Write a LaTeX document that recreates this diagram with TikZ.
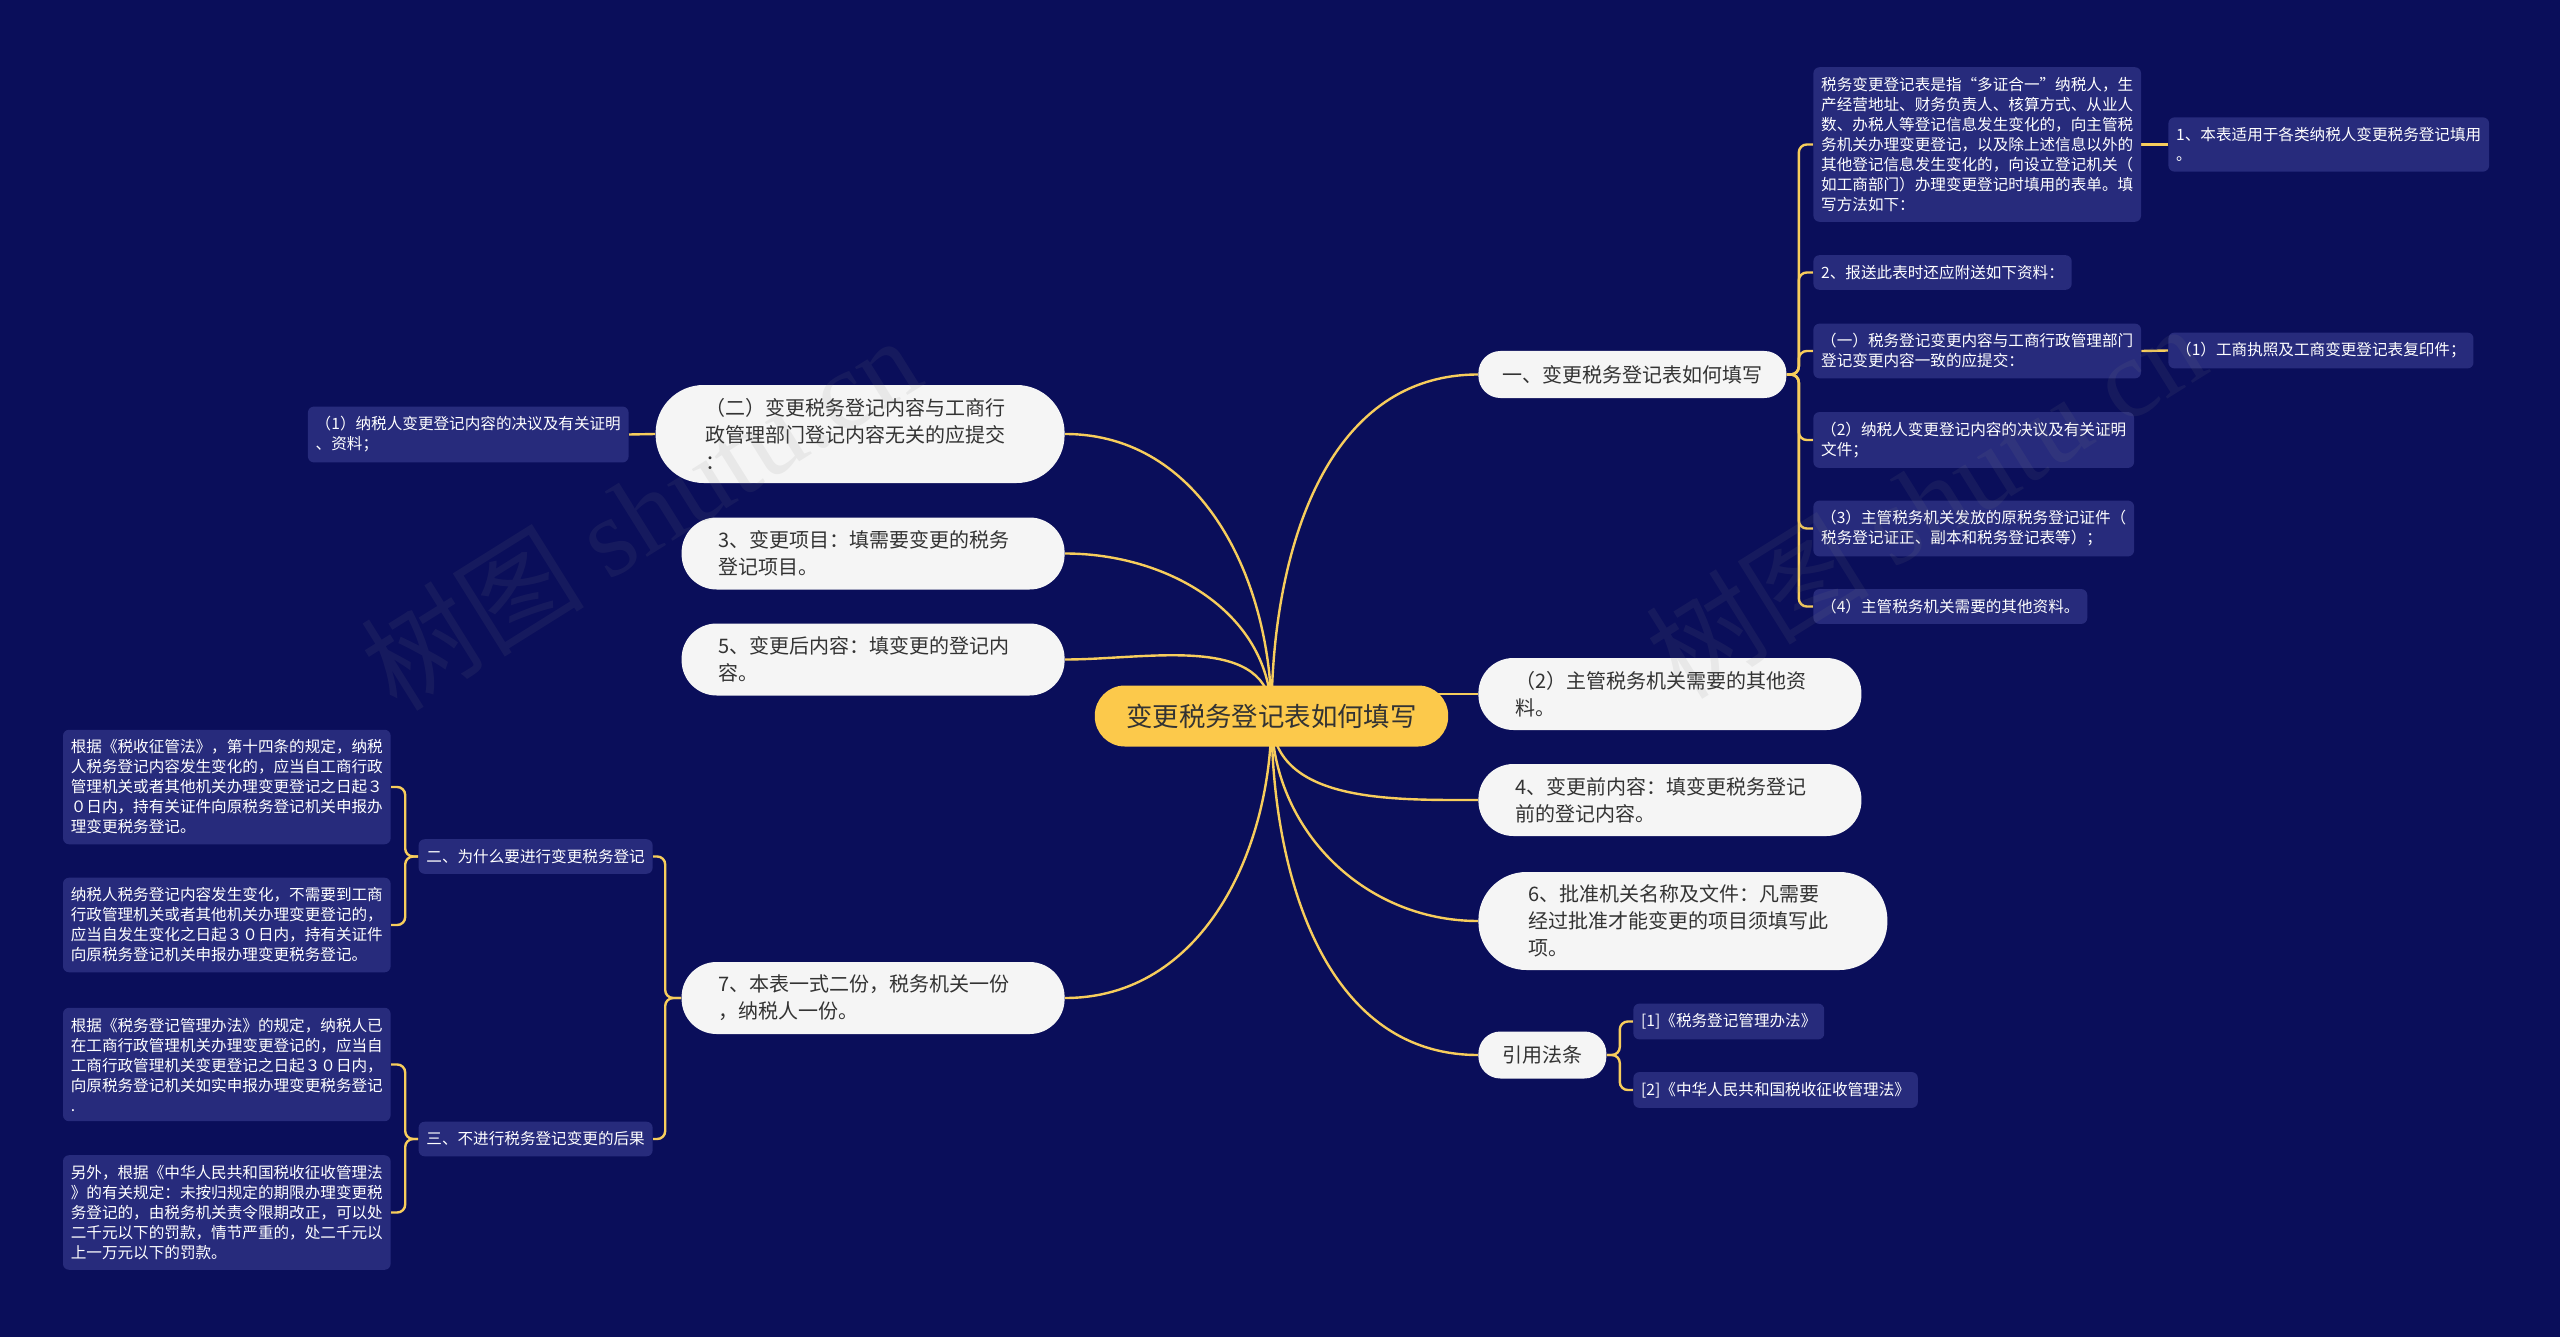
\documentclass[tikz,border=0pt]{standalone}
\usepackage{fontspec}
\setmainfont{Noto Sans CJK SC}
\newfontfamily\wmlatin{Liberation Serif}
\definecolor{navy}{HTML}{0A0E5A}
\definecolor{leafbox}{HTML}{272B7C}
\definecolor{pillgray}{HTML}{F5F5F5}
\definecolor{rootyel}{HTML}{FCC94B}
\definecolor{linkyel}{HTML}{F7CD5C}
\definecolor{textdark}{HTML}{333333}
\pgfdeclarelayer{bg}
\pgfsetlayers{bg,main}

\begin{document}
\begin{tikzpicture}[x=0.5pt, y=-0.5pt, line join=round, line cap=round,
	link/.style={draw=linkyel, line width=1.2pt},
	fork/.style={link, rounded corners=4pt},
	leaf/.style={fill=leafbox, rounded corners=3pt, text=white, align=left, inner xsep=3.9pt, inner ysep=5pt, font=\fontsize{7.8pt}{10pt}\selectfont},
	pill/.style={fill=pillgray, text=textdark, text width=154.5pt, align=left, minimum height=36pt, inner xsep=18.5pt, inner ysep=0pt, rounded corners=17.5pt, font=\fontsize{10pt}{13.5pt}\selectfont},
	bigpill/.style={pill, minimum height=49pt, inner xsep=25pt, rounded corners=24pt},
	onepill/.style={fill=pillgray, text=textdark, minimum height=23.5pt, inner xsep=12pt, inner ysep=0pt, rounded corners=11pt, font=\fontsize{10pt}{13.5pt}\selectfont},
	rootpill/.style={fill=rootyel, text=textdark, minimum height=30.5pt, inner xsep=15.75pt, inner ysep=0pt, rounded corners=15pt, font=\fontsize{13.2pt}{16pt}\selectfont},
	wm/.style={text=gray, opacity=0.11, rotate=32, font=\fontsize{56pt}{60pt}\selectfont}]

	% centre
	\node[rootpill] (root) at (1271.5,716) {变更税务登记表如何填写};

	% right side
	\node[onepill, anchor=west] (howto) at (1478,374.5) {一、变更税务登记表如何填写};
	\node[pill, anchor=west] (other) at (1478,694) {（2）主管税务机关需要的其他资\\料。};
	\node[pill, anchor=west] (before) at (1478,800) {4、变更前内容：填变更税务登记\\前的登记内容。};
	\node[bigpill, anchor=west] (approve) at (1478,921) {6、批准机关名称及文件：凡需要\\经过批准才能变更的项目须填写此\\项。};
	\node[onepill, anchor=west] (law) at (1478,1055) {引用法条};

	\node[leaf, anchor=west] (intro) at (1813,144.5) {税务变更登记表是指“多证合一”纳税人，生\\产经营地址、财务负责人、核算方式、从业人\\数、办税人等登记信息发生变化的，向主管税\\务机关办理变更登记，以及除上述信息以外的\\其他登记信息发生变化的，向设立登记机关（\\如工商部门）办理变更登记时填用的表单。填\\写方法如下：};
	\node[leaf, anchor=west] (scope) at (2168,144.5) {1、本表适用于各类纳税人变更税务登记填用\\。};
	\node[leaf, anchor=west] (attach) at (1813,272.5) {2、报送此表时还应附送如下资料：};
	\node[leaf, anchor=west] (same) at (1813,351) {（一）税务登记变更内容与工商行政管理部门\\登记变更内容一致的应提交：};
	\node[leaf, anchor=west] (licence) at (2168,350.5) {（1）工商执照及工商变更登记表复印件；};
	\node[leaf, anchor=west] (resol) at (1813,440) {（2）纳税人变更登记内容的决议及有关证明\\文件；};
	\node[leaf, anchor=west] (cert) at (1813,528.5) {（3）主管税务机关发放的原税务登记证件（\\税务登记证正、副本和税务登记表等）；};
	\node[leaf, anchor=west] (misc) at (1813,606.5) {（4）主管税务机关需要的其他资料。};

	\node[leaf, anchor=west] (law1) at (1633,1021.5) {[1]《税务登记管理办法》};
	\node[leaf, anchor=west] (law2) at (1633,1090) {[2]《中华人民共和国税收征收管理法》};

	% left side
	\node[bigpill, anchor=east] (unrel) at (1065,434) {（二）变更税务登记内容与工商行\\政管理部门登记内容无关的应提交\\：};
	\node[pill, anchor=east] (item) at (1065,553.5) {3、变更项目：填需要变更的税务\\登记项目。};
	\node[pill, anchor=east] (after) at (1065,659.5) {5、变更后内容：填变更的登记内\\容。};
	\node[pill, anchor=east] (copies) at (1065,998) {7、本表一式二份，税务机关一份\\，纳税人一份。};

	\node[leaf, anchor=east] (resol2) at (629,434.5) {（1）纳税人变更登记内容的决议及有关证明\\、资料；};

	\node[leaf, anchor=east] (why) at (653,856.5) {二、为什么要进行变更税务登记};
	\node[leaf, anchor=east] (cons) at (653,1139) {三、不进行税务登记变更的后果};
	\node[leaf, anchor=east] (why1) at (391,787) {根据《税收征管法》，第十四条的规定，纳税\\人税务登记内容发生变化的，应当自工商行政\\管理机关或者其他机关办理变更登记之日起３\\０日内，持有关证件向原税务登记机关申报办\\理变更税务登记。};
	\node[leaf, anchor=east] (why2) at (391,925) {纳税人税务登记内容发生变化，不需要到工商\\行政管理机关或者其他机关办理变更登记的，\\应当自发生变化之日起３０日内，持有关证件\\向原税务登记机关申报办理变更税务登记。};
	\node[leaf, anchor=east] (cons1) at (391,1064.5) {根据《税务登记管理办法》的规定，纳税人已\\在工商行政管理机关办理变更登记的，应当自\\工商行政管理机关变更登记之日起３０日内，\\向原税务登记机关如实申报办理变更税务登记\\.};
	\node[leaf, anchor=east] (cons2) at (391,1212.5) {另外，根据《中华人民共和国税收征收管理法\\》的有关规定：未按归规定的期限办理变更税\\务登记的，由税务机关责令限期改正，可以处\\二千元以下的罚款，情节严重的，处二千元以\\上一万元以下的罚款。};

	% watermark
	\node[wm] (wm1) at (640,512) {树图 {\wmlatin shutu.cn}};
	\node[wm] (wm2) at (1925,500) {树图 {\wmlatin shutu.cn}};

	\begin{pgfonlayer}{bg}
		\fill[navy] (0,0) rectangle (2560,1337);
		% from the centre
		\foreach \n in {unrel,item,after} \draw[link] (root.center) to[out=90,in=0] (\n.east);
		\draw[link] (root.center) to[out=-90,in=0] (copies.east);
		\draw[link] (root.center) to[out=90,in=180] (howto.west);
		\draw[link] (other.west -| root.center) -- (other.west);
		\foreach \n in {before,approve,law} \draw[link] (root.center) to[out=-90,in=180] (\n.west);
		% forks
		\foreach \n in {intro,attach,same,resol,cert,misc} \draw[fork] (howto.east) -- ++(12,0) |- (\n.west);
		\foreach \n in {law1,law2} \draw[fork] (law.east) -- ++(13,0) |- (\n.west);
		\foreach \n in {why,cons} \draw[fork] (copies.west) -- ++(-16,0) |- (\n.east);
		\foreach \n in {why1,why2} \draw[fork] (why.west) -- ++(-13,0) |- (\n.east);
		\foreach \n in {cons1,cons2} \draw[fork] (cons.west) -- ++(-13,0) |- (\n.east);
		\draw[link] (intro.east) -- (scope.west);
		\draw[link] (same.east) -- (licence.west);
		\draw[link] (unrel.west) -- (resol2.east);
	\end{pgfonlayer}
\end{tikzpicture}
\end{document}
